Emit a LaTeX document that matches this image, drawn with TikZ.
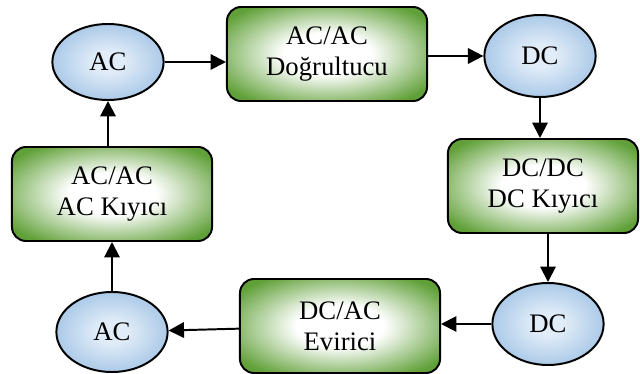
\documentclass[tikz,border=0pt]{standalone}
\usepackage{fontspec}
\setmainfont{Liberation Serif}
\usetikzlibrary{arrows.meta, shapes.geometric}
\definecolor{convgreen}{RGB}{96,160,56}
\definecolor{srcblue}{RGB}{172,202,232}
\definecolor{srclight}{RGB}{224,236,248}
\pgfdeclareradialshading{convshade}{\pgfpoint{0bp}{0bp}}{color(0bp)=(white); color(11bp)=(white); color(31bp)=(convgreen); color(50bp)=(convgreen)}
\pgfdeclareradialshading{srcshade}{\pgfpoint{0bp}{0bp}}{color(0bp)=(srclight); color(7bp)=(srclight); color(25bp)=(srcblue); color(50bp)=(srcblue)}

\begin{document}
\begin{tikzpicture}
  [x=0.025cm, y=-0.025cm,
   conv/.style={rectangle, rounded corners=10pt, draw, line width=1.4pt, shade, shading=convshade,
     minimum width=5cm, minimum height=2.35cm, align=center, font=\fontsize{19}{22}\selectfont},
   src/.style={ellipse, draw, line width=1.4pt, shade, shading=srcshade, inner sep=0pt,
     minimum width=2.78cm, minimum height=2cm, font=\fontsize{19}{22}\selectfont},
   >={Triangle[length=11pt, width=11pt]}]
  \useasboundingbox (0,0) rectangle (640,374);

  \node (acT) at (108,62) [src, minimum height=1.9cm] {AC};
  \node (dcT) at (540,56) [src, minimum height=2.05cm] {DC};
  \node (dcB) at (548,324) [src, minimum height=2.05cm] {DC};
  \node (acB) at (112,332) [src] {AC};

  \node (rect) at (327,54) [conv] {AC/AC\\Doğrultucu};
  \node (dcdc) at (543,186) [conv, minimum width=4.75cm] {DC/DC\\DC Kıyıcı};
  \node (evir) at (340,326) [conv] {DC/AC\\Evirici};
  \node (kiyici) at (112,194) [conv] {AC/AC\\AC Kıyıcı};

  \draw [->, line width=1.4pt] (acT) -- (acT -| rect.west);
  \draw [->, line width=1.4pt] (rect.east |- dcT) -- (dcT);
  \draw [->, line width=1.4pt] (dcT) -- (dcT |- dcdc.north);
  \draw [->, line width=1.4pt] (dcdc.south -| dcB) -- (dcB);
  \draw [->, line width=1.4pt] (dcB) -- (dcB -| evir.east);
  \draw [->, line width=1.4pt] (evir) -- (acB);
  \draw [->, line width=1.4pt] (acB) -- (acB |- kiyici.south);
  \draw [->, line width=1.4pt] (kiyici.north -| acT) -- (acT);
\end{tikzpicture}
\end{document}
